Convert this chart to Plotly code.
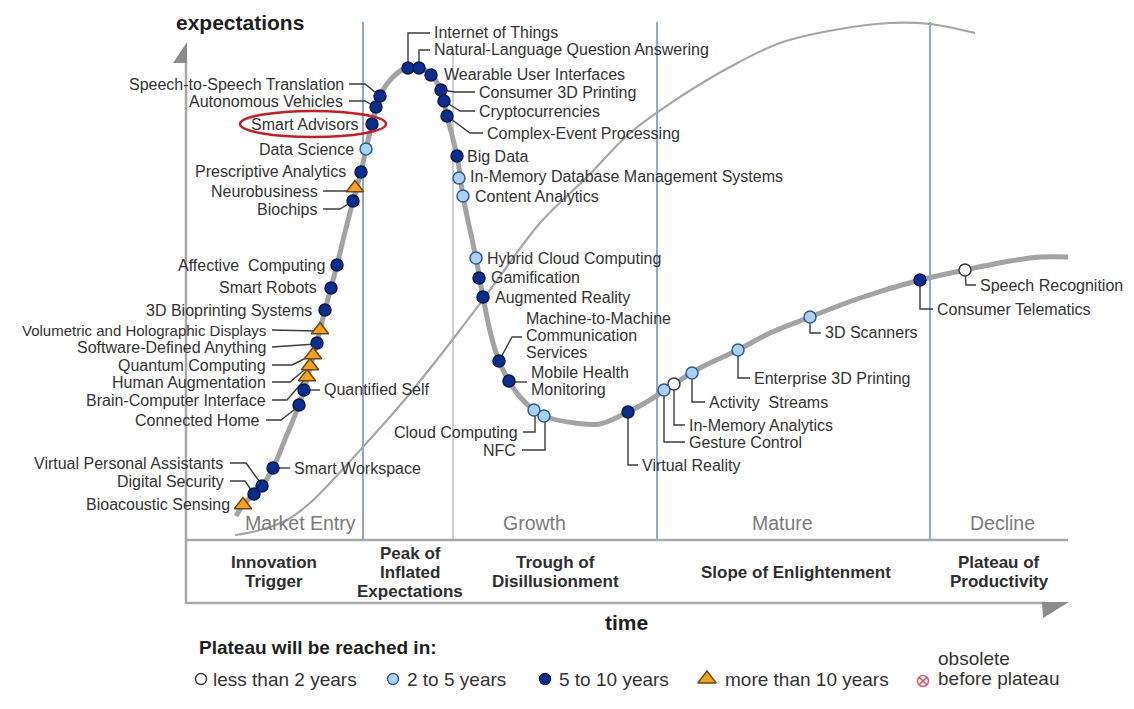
import plotly.graph_objects as go

# ---------------- data ----------------
names = [
    "Bioacoustic Sensing", "Digital Security", "Virtual Personal Assistants", "Smart Workspace",
    "Connected Home", "Quantified Self", "Brain-Computer Interface", "Human Augmentation",
    "Quantum Computing", "Software-Defined Anything", "Volumetric and Holographic Displays",
    "3D Bioprinting Systems", "Smart Robots", "Affective  Computing", "Biochips", "Neurobusiness",
    "Prescriptive Analytics", "Data Science", "Smart Advisors", "Autonomous Vehicles",
    "Speech-to-Speech Translation", "Internet of Things", "Natural-Language Question Answering",
    "Wearable User Interfaces", "Consumer 3D Printing", "Cryptocurrencies", "Complex-Event Processing",
    "Big Data", "In-Memory Database Management Systems", "Content Analytics", "Hybrid Cloud Computing",
    "Gamification", "Augmented Reality", "Machine-to-Machine<br>Communication<br>Services",
    "Mobile Health<br>Monitoring", "Cloud Computing", "NFC", "Virtual Reality", "Gesture Control",
    "In-Memory Analytics", "Activity  Streams", "Enterprise 3D Printing", "3D Scanners",
    "Consumer Telematics", "Speech Recognition",
]
tech_x = [243, 254, 262, 273, 299, 304, 307, 310, 313, 317, 320, 325, 331, 337, 353, 355, 361, 366,
          372, 376, 380, 408, 419, 431, 441, 444, 447, 457, 459, 463, 476, 479, 483, 499, 509, 534,
          544, 628, 664, 674, 692, 738, 810, 920, 965]
tech_y = [505, 494, 486, 468, 405, 390, 377, 366, 355, 343, 330, 310, 288, 265, 201, 188, 172, 149,
          124, 107, 96, 68, 68, 75, 90, 101, 116, 156, 178, 196, 258, 278, 297, 361, 381, 410, 416,
          412, 390, 384, 373, 350, 317, 280, 270]
plateau = ["gt10", "5to10", "5to10", "5to10", "5to10", "5to10", "gt10", "gt10", "gt10", "5to10", "gt10",
           "5to10", "5to10", "5to10", "5to10", "gt10", "5to10", "2to5", "5to10", "5to10", "5to10",
           "5to10", "5to10", "5to10", "5to10", "5to10", "5to10", "5to10", "2to5", "2to5", "2to5",
           "5to10", "5to10", "5to10", "5to10", "2to5", "2to5", "5to10", "2to5", "lt2", "2to5", "2to5",
           "2to5", "5to10", "lt2"]

hype_x = [236, 243, 254, 262, 273, 286, 299, 304, 309, 315, 320, 325, 331, 337, 345, 353, 361, 366, 372,
          380, 392, 408, 419, 431, 441, 447, 457, 463, 470, 476, 483, 491, 499, 509, 520, 534, 550, 575,
          600, 628, 650, 674, 700, 738, 770, 810, 860, 920, 965, 1010, 1040, 1068]
hype_y = [516, 505, 494, 486, 468, 437, 405, 390, 372, 350, 330, 310, 288, 265, 232, 201, 172, 149, 124,
          96, 78, 67, 67, 75, 90, 116, 156, 196, 230, 258, 297, 335, 361, 381, 397, 410, 418, 423, 424,
          412, 400, 384, 368, 350, 333, 317, 298, 280, 270, 261, 257, 257]
life_x = [235, 260, 287, 310, 330, 363, 407, 460, 490, 540, 587, 630, 680, 730, 780, 840, 890, 930, 975]
life_y = [535, 530, 520, 503, 483, 447, 397, 330, 290, 223, 177, 133, 97, 67, 43, 29, 23, 24, 33]

phase_names = ["Innovation<br>Trigger", "Peak of<br>Inflated<br>Expectations", "Trough of<br>Disillusionment",
               "Slope of Enlightenment", "Plateau of<br>Productivity"]
stage_names = ["Market Entry", "Growth", "Mature", "Decline"]
legend_labels = ["less than 2 years", "2 to 5 years", "5 to 10 years", "more than 10 years",
                 "obsolete<br>before plateau"]

# ---------------- styles / layout ----------------
STYLE = {
    "lt2": dict(symbol="circle", color="#ffffff", line="#3a3a3a", size=12),
    "2to5": dict(symbol="circle", color="#a9d1f2", line="#35598f", size=12),
    "5to10": dict(symbol="circle", color="#0b2d8c", line="#0a1850", size=12),
    "gt10": dict(symbol="triangle-up", color="#f5a31e", line="#6a4a10", size=15),
}
FONT = "Liberation Sans, Arial, sans-serif"
TXT = "#333333"
OFF = 8  # page body margin

LABELS = {
    "Speech-to-Speech Translation": (346, 84, "right", [(349, 84), (365, 84), (380, 96)]),
    "Autonomous Vehicles": (345, 101, "right", [(349, 101), (365, 101), (376, 107)]),
    "Smart Advisors": (361, 124, "right", None),
    "Data Science": (356, 149, "right", None),
    "Prescriptive Analytics": (348, 171, "right", None),
    "Neurobusiness": (320, 191, "right", [(323, 191), (347, 191), (355, 188)]),
    "Biochips": (319, 209, "right", [(323, 209), (340, 209), (353, 201)]),
    "Affective  Computing": (327, 265, "right", None),
    "Smart Robots": (319, 287, "right", None),
    "3D Bioprinting Systems": (314, 310, "right", None),
    "Volumetric and Holographic Displays": (268, 330, "right", [(272, 330), (318, 331)]),
    "Software-Defined Anything": (268, 347, "right", [(272, 347), (316, 344)]),
    "Quantum Computing": (268, 365, "right", [(272, 365), (292, 365), (312, 355)]),
    "Human Augmentation": (268, 382, "right", [(272, 382), (290, 382), (309, 366)]),
    "Brain-Computer Interface": (268, 400, "right", [(272, 400), (287, 400), (306, 378)]),
    "Connected Home": (262, 420, "right", [(266, 420), (281, 420), (299, 406)]),
    "Virtual Personal Assistants": (225, 463, "right", [(230, 463), (246, 463), (262, 485)]),
    "Digital Security": (226, 481, "right", [(230, 481), (245, 481), (254, 494)]),
    "Bioacoustic Sensing": (232, 504, "right", None),
    "Quantified Self": (322, 389, "left", [(309, 390), (320, 390)]),
    "Smart Workspace": (292, 468, "left", [(278, 468), (290, 468)]),
    "Internet of Things": (432, 32, "left", [(408, 68), (408, 33), (430, 33)]),
    "Natural-Language Question Answering": (432, 49, "left", [(419, 68), (419, 50), (430, 50)]),
    "Wearable User Interfaces": (442, 74, "left", None),
    "Consumer 3D Printing": (477, 92, "left", [(441, 90), (455, 92), (475, 92)]),
    "Cryptocurrencies": (477, 111, "left", [(444, 101), (460, 111), (475, 111)]),
    "Complex-Event Processing": (485, 133, "left", [(447, 116), (470, 133), (483, 133)]),
    "Big Data": (465, 156, "left", None),
    "In-Memory Database Management Systems": (468, 176, "left", None),
    "Content Analytics": (473, 196, "left", None),
    "Hybrid Cloud Computing": (485, 258, "left", None),
    "Gamification": (489, 277, "left", None),
    "Augmented Reality": (493, 297, "left", None),
    "Machine-to-Machine<br>Communication<br>Services": (524, 335, "left", [(499, 361), (512, 337), (522, 337)]),
    "Mobile Health<br>Monitoring": (529, 381, "left", [(509, 382), (527, 382)]),
    "Cloud Computing": (520, 432, "right", [(535, 412), (535, 432), (523, 432)]),
    "NFC": (518, 450, "right", [(545, 418), (545, 450), (522, 450)]),
    "Virtual Reality": (640, 465, "left", [(628, 412), (628, 465), (638, 465)]),
    "Gesture Control": (687, 442, "left", [(664, 390), (664, 442), (685, 442)]),
    "In-Memory Analytics": (687, 425, "left", [(674, 384), (674, 425), (685, 425)]),
    "Activity  Streams": (707, 402, "left", [(692, 373), (692, 402), (705, 402)]),
    "Enterprise 3D Printing": (752, 378, "left", [(738, 350), (738, 378), (750, 378)]),
    "3D Scanners": (823, 332, "left", [(810, 317), (810, 333), (821, 333)]),
    "Consumer Telematics": (935, 309, "left", [(920, 280), (920, 309), (933, 309)]),
    "Speech Recognition": (978, 285, "left", [(965, 270), (966, 285), (976, 285)]),
}
LABEL_SIZE = 16
LABEL_SIZE_OVERRIDE = {"Volumetric and Holographic Displays": 15}

fig = go.Figure()


def add_text(x, y, text, size, spacing, anchor="left", color=TXT, bold=False, family=FONT):
    """Place (possibly multi-line) text with controlled line spacing, centred on y."""
    lines = text.split("<br>")
    n = len(lines)
    for i, ln in enumerate(lines):
        yy = y + (i - (n - 1) / 2) * spacing
        fig.add_annotation(x=x, y=yy, text=("<b>%s</b>" % ln) if bold else ln, showarrow=False,
                           xanchor=anchor, yanchor="middle",
                           font=dict(family=family, size=size, color=color))


fig.add_trace(go.Scatter(x=life_x, y=life_y, mode="lines", line=dict(color="#a6a6a6", width=2.2, shape="spline"),
                         hoverinfo="skip", showlegend=False))
fig.add_trace(go.Scatter(x=hype_x, y=hype_y, mode="lines", line=dict(color="#a3a3a3", width=5, shape="spline"),
                         hoverinfo="skip", showlegend=False))

lx, ly = [], []
for n in names:
    path = LABELS[n][3]
    if path:
        for (px, py) in path:
            lx.append(px)
            ly.append(py)
        lx.append(None)
        ly.append(None)
fig.add_trace(go.Scatter(x=lx, y=ly, mode="lines", line=dict(color="#3c3c3c", width=1.4),
                         hoverinfo="skip", showlegend=False))

for cat in ["lt2", "2to5", "5to10", "gt10"]:
    xs = [x for x, c in zip(tech_x, plateau) if c == cat]
    ys = [y for y, c in zip(tech_y, plateau) if c == cat]
    tx = [n for n, c in zip(names, plateau) if c == cat]
    s = STYLE[cat]
    fig.add_trace(go.Scatter(x=xs, y=ys, mode="markers", text=tx, hoverinfo="text",
                             marker=dict(symbol=s["symbol"], size=s["size"], color=s["color"],
                                         line=dict(color=s["line"], width=1.5)),
                             showlegend=False))

for n in names:
    x, y, anc, _ = LABELS[n]
    add_text(x, y, n, LABEL_SIZE_OVERRIDE.get(n, LABEL_SIZE), 17, anchor=anc)

shapes = []
axis_col = "#a9a9a9"
shapes.append(dict(type="line", x0=186, x1=186, y0=60, y1=604, line=dict(color=axis_col, width=2.5)))
shapes.append(dict(type="line", x0=186, x1=1068, y0=540, y1=540, line=dict(color=axis_col, width=2.5)))
shapes.append(dict(type="line", x0=186, x1=1045, y0=603, y1=603, line=dict(color=axis_col, width=2.5)))
shapes.append(dict(type="path", path="M 187,42 L 187,63 L 173,63 Z", fillcolor="#8c8c8c", line=dict(width=0)))
shapes.append(dict(type="path", path="M 1042,602 L 1069,602 L 1043,618 Z", fillcolor="#8c8c8c", line=dict(width=0)))
for xv in [363, 657, 930]:
    shapes.append(dict(type="line", x0=xv, x1=xv, y0=22, y1=540, line=dict(color="#4a6db3", width=1.2),
                       layer="below"))
shapes.append(dict(type="line", x0=453, x1=453, y0=50, y1=540, line=dict(color="#cfcfcf", width=2),
                   layer="below"))
shapes.append(dict(type="circle", x0=240, x1=386, y0=111, y1=137, line=dict(color="#c0202a", width=2.5)))

stage_x = [300, 534, 782, 1002]
for s, xv in zip(stage_names, stage_x):
    add_text(xv, 523, s, 19.5, 20, anchor="center", color="#7b7b7b")
phase_x = [274, 410, 555, 796, 999]
for p, xv in zip(phase_names, phase_x):
    add_text(xv, 572, p, 17, 19, anchor="center", color="#2e2e2e", bold=True)

add_text(240, 22, "expectations", 21, 20, anchor="center", color="#1e1e1e", bold=True)
add_text(626, 622, "time", 21, 20, anchor="center", color="#1e1e1e", bold=True)

add_text(197, 647, "Plateau will be reached in:", 19, 20, anchor="left", color="#1e1e1e", bold=True)
leg_mx = [201, 393, 545, 707]
leg_tx = [211, 405, 557, 723]
for cat, mx in zip(["lt2", "2to5", "5to10", "gt10"], leg_mx):
    s = STYLE[cat]
    fig.add_trace(go.Scatter(x=[mx], y=[679], mode="markers", hoverinfo="skip", showlegend=False,
                             marker=dict(symbol=s["symbol"], size=s["size"] - 1 if cat != "gt10" else 16,
                                         color=s["color"], line=dict(color=s["line"], width=1.4))))
fig.add_trace(go.Scatter(x=[923], y=[681], mode="markers", hoverinfo="skip", showlegend=False,
                         marker=dict(symbol="circle-x-open", size=11, color="#e0606e", line=dict(width=1.6))))
for lab, tx in zip(legend_labels[:4], leg_tx):
    add_text(tx, 679, lab, 19, 20, anchor="left")
add_text(936, 668, legend_labels[4], 19, 20, anchor="left")

fig.update_layout(
    width=1134 - OFF, height=709 - OFF, margin=dict(l=0, r=0, t=0, b=0),
    paper_bgcolor="white", plot_bgcolor="white", shapes=shapes,
    xaxis=dict(range=[OFF, 1134], visible=False, fixedrange=True),
    yaxis=dict(range=[709, OFF], visible=False, fixedrange=True),
    showlegend=False,
)

fig.write_html("out.html")
